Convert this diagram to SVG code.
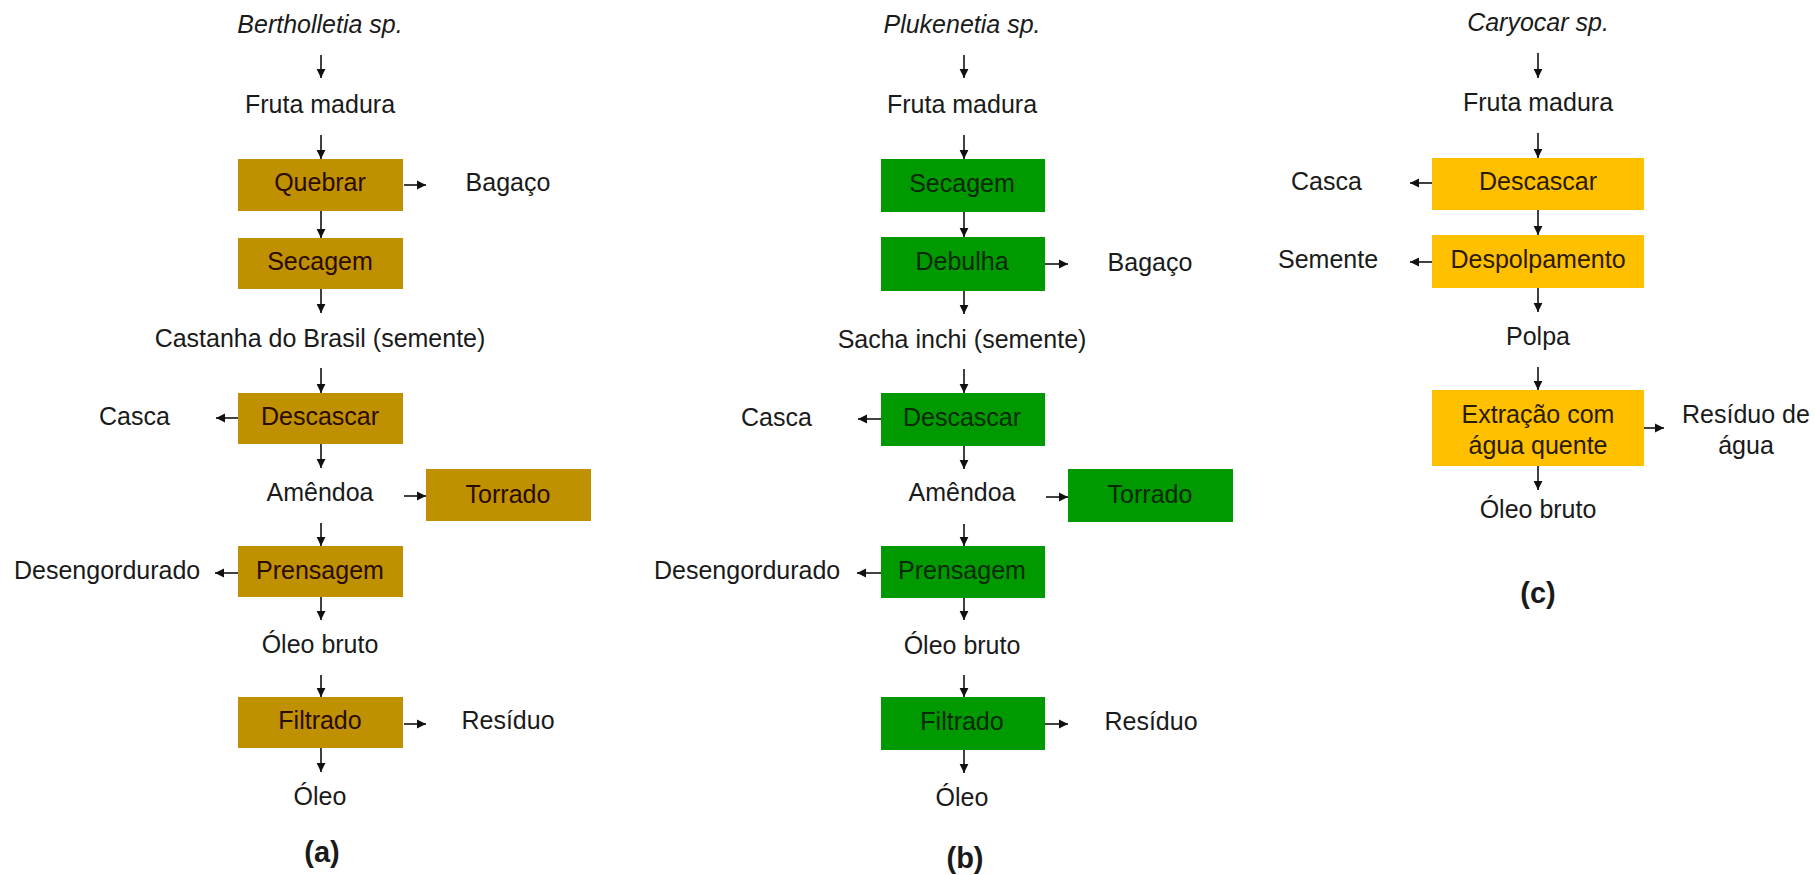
<svg xmlns="http://www.w3.org/2000/svg" width="1815" height="875" viewBox="0 0 1815 875">
<defs>
<marker id="ah" markerUnits="userSpaceOnUse" markerWidth="10" markerHeight="10" refX="9" refY="5" orient="auto">
<path d="M0,0.6 L9,5 L0,9.4 z" fill="#111"/>
</marker>
<style>
text{font-family:"Liberation Sans",Arial,sans-serif;font-size:25px;fill:#1a1a1a}
.c{text-anchor:middle}
.i{font-style:italic}
.lab{font-weight:bold;font-size:29px}
.ba{fill:#BF9000}
.bb{fill:#009900}
.bc{fill:#FFC000}
.ta{fill:#2a0c00}
.tb{fill:#0a2a05}
.tc{fill:#2a1a00}
#connectors line{stroke:#111;stroke-width:1.6;marker-end:url(#ah)}
</style>
</defs>
<rect width="1815" height="875" fill="#ffffff"/>

<!-- Panel (a) -->
<g id="a-title"><text class="c i" x="320" y="33">Bertholletia sp.</text></g>
<g id="a-fruta"><text class="c" x="320" y="113">Fruta madura</text></g>
<g id="a-quebrar"><rect class="ba" x="238" y="159" width="165" height="52"/><text class="c ta" x="320" y="191">Quebrar</text></g>
<g id="a-bagaco"><text class="c" x="508" y="191">Bagaço</text></g>
<g id="a-secagem"><rect class="ba" x="238" y="238" width="165" height="51"/><text class="c ta" x="320" y="270">Secagem</text></g>
<g id="a-castanha"><text class="c" x="320" y="347">Castanha do Brasil (semente)</text></g>
<g id="a-descascar"><rect class="ba" x="238" y="393" width="165" height="51"/><text class="c ta" x="320" y="425">Descascar</text></g>
<g id="a-casca"><text x="99" y="425">Casca</text></g>
<g id="a-amendoa"><text class="c" x="320" y="501">Amêndoa</text></g>
<g id="a-torrado"><rect class="ba" x="426" y="469" width="165" height="52"/><text class="c ta" x="508" y="503">Torrado</text></g>
<g id="a-prensagem"><rect class="ba" x="238" y="546" width="165" height="51"/><text class="c ta" x="320" y="579">Prensagem</text></g>
<g id="a-desengordurado"><text x="14" y="579">Desengordurado</text></g>
<g id="a-oleobruto"><text class="c" x="320" y="653">Óleo bruto</text></g>
<g id="a-filtrado"><rect class="ba" x="238" y="697" width="165" height="51"/><text class="c ta" x="320" y="729">Filtrado</text></g>
<g id="a-residuo"><text class="c" x="508" y="729">Resíduo</text></g>
<g id="a-oleo"><text class="c" x="320" y="805">Óleo</text></g>
<g id="a-label"><text class="c lab" x="322" y="862">(a)</text></g>

<!-- Panel (b) -->
<g id="b-title"><text class="c i" x="962" y="33">Plukenetia sp.</text></g>
<g id="b-fruta"><text class="c" x="962" y="113">Fruta madura</text></g>
<g id="b-secagem"><rect class="bb" x="881" y="159" width="164" height="53"/><text class="c tb" x="962" y="192">Secagem</text></g>
<g id="b-debulha"><rect class="bb" x="881" y="237" width="164" height="54"/><text class="c tb" x="962" y="270">Debulha</text></g>
<g id="b-bagaco"><text class="c" x="1150" y="271">Bagaço</text></g>
<g id="b-sacha"><text class="c" x="962" y="348">Sacha inchi (semente)</text></g>
<g id="b-descascar"><rect class="bb" x="881" y="393" width="164" height="53"/><text class="c tb" x="962" y="426">Descascar</text></g>
<g id="b-casca"><text x="741" y="426">Casca</text></g>
<g id="b-amendoa"><text class="c" x="962" y="501">Amêndoa</text></g>
<g id="b-torrado"><rect class="bb" x="1068" y="469" width="165" height="53"/><text class="c tb" x="1150" y="503">Torrado</text></g>
<g id="b-prensagem"><rect class="bb" x="881" y="546" width="164" height="52"/><text class="c tb" x="962" y="579">Prensagem</text></g>
<g id="b-desengordurado"><text x="654" y="579">Desengordurado</text></g>
<g id="b-oleobruto"><text class="c" x="962" y="654">Óleo bruto</text></g>
<g id="b-filtrado"><rect class="bb" x="881" y="697" width="164" height="53"/><text class="c tb" x="962" y="730">Filtrado</text></g>
<g id="b-residuo"><text class="c" x="1151" y="730">Resíduo</text></g>
<g id="b-oleo"><text class="c" x="962" y="806">Óleo</text></g>
<g id="b-label"><text class="c lab" x="965" y="868">(b)</text></g>

<!-- Panel (c) -->
<g id="c-title"><text class="c i" x="1538" y="31">Caryocar sp.</text></g>
<g id="c-fruta"><text class="c" x="1538" y="111">Fruta madura</text></g>
<g id="c-descascar"><rect class="bc" x="1432" y="158" width="212" height="52"/><text class="c tc" x="1538" y="190">Descascar</text></g>
<g id="c-casca"><text x="1291" y="190">Casca</text></g>
<g id="c-despolpamento"><rect class="bc" x="1432" y="235" width="212" height="53"/><text class="c tc" x="1538" y="268">Despolpamento</text></g>
<g id="c-semente"><text x="1278" y="268">Semente</text></g>
<g id="c-polpa"><text class="c" x="1538" y="345">Polpa</text></g>
<g id="c-extracao"><rect class="bc" x="1432" y="390" width="212" height="76"/><text class="c tc" x="1538" y="423">Extração com</text><text class="c tc" x="1538" y="454">água quente</text></g>
<g id="c-residuo"><text class="c" x="1746" y="423">Resíduo de</text><text class="c" x="1746" y="454">água</text></g>
<g id="c-oleobruto"><text class="c" x="1538" y="518">Óleo bruto</text></g>
<g id="c-label"><text class="c lab" x="1538" y="603">(c)</text></g>

<g id="connectors">
<!-- (a) -->
<line x1="321" y1="55" x2="321" y2="78"/>
<line x1="321" y1="135" x2="321" y2="159"/>
<line x1="404" y1="185" x2="426" y2="185"/>
<line x1="321" y1="211" x2="321" y2="238"/>
<line x1="321" y1="289" x2="321" y2="313"/>
<line x1="321" y1="368" x2="321" y2="393"/>
<line x1="238" y1="418" x2="216" y2="418"/>
<line x1="321" y1="444" x2="321" y2="468"/>
<line x1="404" y1="496" x2="426" y2="496"/>
<line x1="321" y1="523" x2="321" y2="546"/>
<line x1="238" y1="573" x2="215" y2="573"/>
<line x1="321" y1="597" x2="321" y2="620"/>
<line x1="321" y1="675" x2="321" y2="697"/>
<line x1="404" y1="724" x2="426" y2="724"/>
<line x1="321" y1="748" x2="321" y2="772"/>
<!-- (b) -->
<line x1="964" y1="55" x2="964" y2="78"/>
<line x1="964" y1="135" x2="964" y2="159"/>
<line x1="964" y1="212" x2="964" y2="237"/>
<line x1="1045" y1="264" x2="1068" y2="264"/>
<line x1="964" y1="291" x2="964" y2="314"/>
<line x1="964" y1="369" x2="964" y2="393"/>
<line x1="881" y1="419" x2="858" y2="419"/>
<line x1="964" y1="446" x2="964" y2="469"/>
<line x1="1046" y1="497" x2="1068" y2="497"/>
<line x1="964" y1="524" x2="964" y2="546"/>
<line x1="881" y1="573" x2="857" y2="573"/>
<line x1="964" y1="598" x2="964" y2="620"/>
<line x1="964" y1="675" x2="964" y2="697"/>
<line x1="1045" y1="724" x2="1068" y2="724"/>
<line x1="964" y1="750" x2="964" y2="773"/>
<!-- (c) -->
<line x1="1538" y1="53" x2="1538" y2="78"/>
<line x1="1538" y1="133" x2="1538" y2="158"/>
<line x1="1432" y1="183" x2="1410" y2="183"/>
<line x1="1538" y1="210" x2="1538" y2="235"/>
<line x1="1432" y1="262" x2="1410" y2="262"/>
<line x1="1538" y1="288" x2="1538" y2="312"/>
<line x1="1538" y1="367" x2="1538" y2="390"/>
<line x1="1644" y1="428" x2="1664" y2="428"/>
<line x1="1538" y1="466" x2="1538" y2="490"/>
</g>
</svg>
